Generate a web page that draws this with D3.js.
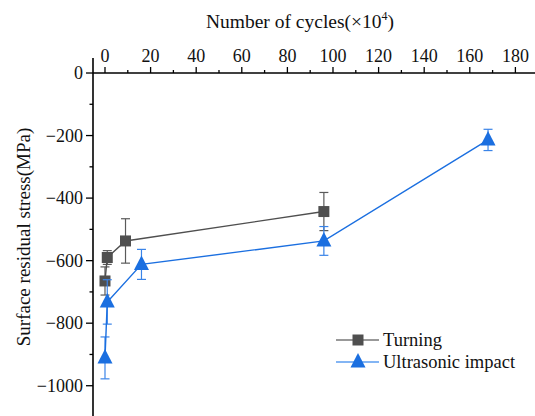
<!DOCTYPE html>
<html>
<head>
<meta charset="utf-8">
<script src="https://cdn.jsdelivr.net/npm/d3@7"></script>
<style>
  body { margin: 0; background: #fff; }
  svg { display: block; }
  svg text { font-family: "Liberation Serif", "Times New Roman", "DejaVu Serif", serif; fill: #111; }
  .axis path, .axis line { stroke: #000; }
</style>
</head>
<body>
<svg width="535" height="416"></svg>
<script>
// Turning
const turnCycles = [0, 1, 9, 96];
const turnStress = [-665, -590, -537, -443];
const turnErr = [45, 22, 71, 61];

// Ultrasonic impact
const uiCycles = [0, 1, 16, 96, 168];
const uiStress = [-911, -732, -612, -537, -214];
const uiErr = [67, 71, 48, 46, 34];

const xTicks = [0, 20, 40, 60, 80, 100, 120, 140, 160, 180];
const yTicks = [-1000, -800, -600, -400, -200, 0];

const svg = d3.select("svg");

const x = d3.scaleLinear().domain([-5.26, 188.6]).range([93, 535]);
const y = d3.scaleLinear().domain([-1100, 48]).range([417, 58]);

// top axis placed at stress = 0
const xAxis = svg.append("g")
    .attr("class", "axis")
    .attr("transform", `translate(0,${y(0)})`);
xAxis.append("line")
    .attr("x1", 93).attr("x2", 535)
    .attr("stroke-width", 1.6);
xAxis.selectAll(".minor")
    .data(d3.range(10, 190, 20))
    .enter().append("line")
    .attr("x1", d => x(d)).attr("x2", d => x(d))
    .attr("y1", 0).attr("y2", -3)
    .attr("stroke-width", 1.3);
xAxis.selectAll(".major")
    .data(xTicks)
    .enter().append("line")
    .attr("x1", d => x(d)).attr("x2", d => x(d))
    .attr("y1", 0).attr("y2", -6)
    .attr("stroke-width", 1.3);
xAxis.selectAll("text")
    .data(xTicks)
    .enter().append("text")
    .attr("x", d => x(d))
    .attr("y", -11)
    .attr("text-anchor", "middle")
    .attr("font-size", 18)
    .text(d => d);

// left axis
const yAxis = svg.append("g")
    .attr("class", "axis")
    .attr("transform", `translate(${x.range()[0]},0)`);
yAxis.append("line")
    .attr("y1", 58).attr("y2", 416)
    .attr("stroke-width", 1.6);
yAxis.selectAll(".minor")
    .data(d3.range(-1100, 0, 200))
    .enter().append("line")
    .attr("y1", d => y(d)).attr("y2", d => y(d))
    .attr("x1", 0).attr("x2", -3.5)
    .attr("stroke-width", 1.3);
yAxis.selectAll(".major")
    .data(yTicks)
    .enter().append("line")
    .attr("y1", d => y(d)).attr("y2", d => y(d))
    .attr("x1", 0).attr("x2", -7)
    .attr("stroke-width", 1.3);
yAxis.selectAll("text")
    .data(yTicks)
    .enter().append("text")
    .attr("x", -10)
    .attr("y", d => y(d))
    .attr("dy", "0.35em")
    .attr("text-anchor", "end")
    .attr("font-size", 18)
    .text(d => d < 0 ? "\u2212" + Math.abs(d) : d);

// axis titles
const title = svg.append("text")
    .attr("x", 300).attr("y", 28)
    .attr("text-anchor", "middle")
    .attr("font-size", 19.5);
title.append("tspan").text("Number of cycles(\u00d710");
title.append("tspan").attr("font-size", 12).attr("dy", -8).text("4");
title.append("tspan").attr("dy", 8).text(")");

svg.append("text")
    .attr("transform", "translate(30,237) rotate(-90)")
    .attr("text-anchor", "middle")
    .attr("font-size", 19)
    .text("Surface residual stress(MPa)");

function series(cycles, stress, err, color, barColor, marker) {
    const pts = cycles.map((c, i) => ({ c: c, s: stress[i], e: err[i] }));
    const g = svg.append("g");
    const bars = g.selectAll(".bar").data(pts).enter().append("g")
        .attr("stroke", barColor).attr("stroke-width", 1.2);
    bars.append("line")
        .attr("x1", d => x(d.c)).attr("x2", d => x(d.c))
        .attr("y1", d => y(d.s - d.e)).attr("y2", d => y(d.s + d.e));
    bars.append("line")
        .attr("x1", d => x(d.c) - 4.5).attr("x2", d => x(d.c) + 4.5)
        .attr("y1", d => y(d.s + d.e)).attr("y2", d => y(d.s + d.e));
    bars.append("line")
        .attr("x1", d => x(d.c) - 4.5).attr("x2", d => x(d.c) + 4.5)
        .attr("y1", d => y(d.s - d.e)).attr("y2", d => y(d.s - d.e));

    g.append("path")
        .datum(pts)
        .attr("fill", "none")
        .attr("stroke", color)
        .attr("stroke-width", 1.4)
        .attr("d", d3.line().x(d => x(d.c)).y(d => y(d.s)));

    g.selectAll(".pt").data(pts).enter().append("path")
        .attr("transform", d => `translate(${x(d.c)},${y(d.s)})`)
        .attr("fill", color)
        .attr("d", marker);
}

const squareMark = "M-5.5,-5.5H5.5V5.5H-5.5Z";
const triMark = "M0,-9L7.5,5.5H-7.5Z";

series(turnCycles, turnStress, turnErr, "#4f4f4f", "#5a5a5a", squareMark);
series(uiCycles, uiStress, uiErr, "#1b6fe0", "#3a84e8", triMark);

// legend
const legend = svg.append("g");
const items = [
    { name: "Turning", color: "#4f4f4f", line: "#777", mark: squareMark, y: 340 },
    { name: "Ultrasonic impact", color: "#1b6fe0", line: "#5a9cf0", mark: triMark, y: 362 }
];
items.forEach(it => {
    legend.append("line")
        .attr("x1", 336).attr("x2", 379)
        .attr("y1", it.y).attr("y2", it.y)
        .attr("stroke", it.line).attr("stroke-width", 1.5);
    legend.append("path")
        .attr("transform", `translate(358,${it.y})`)
        .attr("fill", it.color)
        .attr("d", it.mark);
    legend.append("text")
        .attr("x", 383).attr("y", it.y)
        .attr("dy", "0.35em")
        .attr("font-size", 18.5)
        .text(it.name);
});
</script>
</body>
</html>
